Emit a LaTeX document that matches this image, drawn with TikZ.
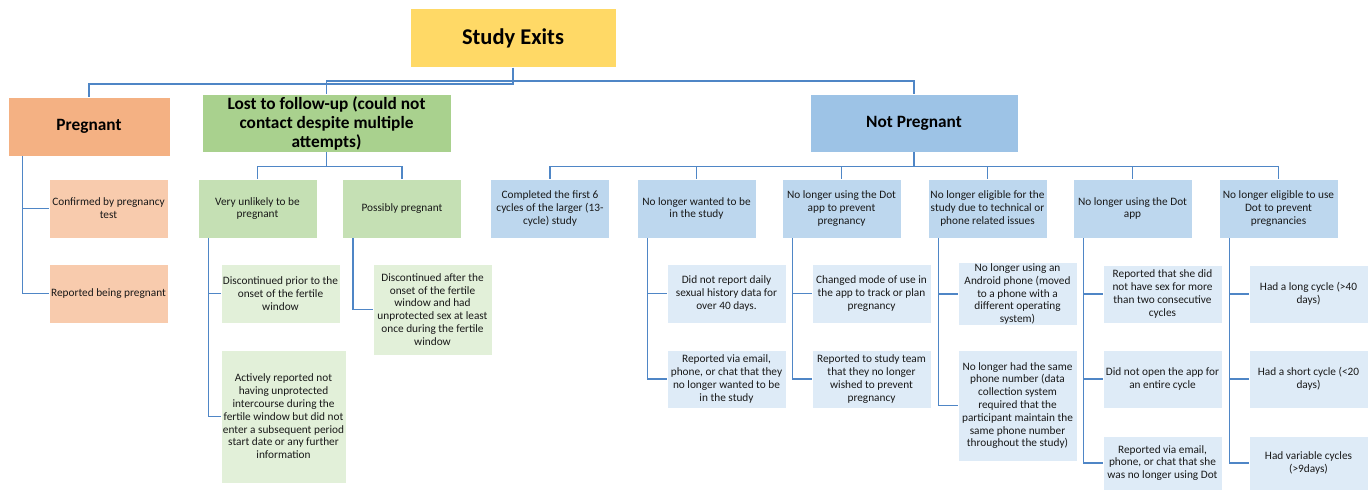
\documentclass[tikz,border=0pt]{standalone}
\usepackage{fontspec}
\setmainfont{Carlito}
\definecolor{linkblue}{HTML}{4F86C6}
\definecolor{exitfill}{HTML}{FFD966}
\definecolor{pregfill}{HTML}{F4B183}
\definecolor{pregsub}{HTML}{F8CBAD}
\definecolor{lostfill}{HTML}{A9D18E}
\definecolor{lostsub}{HTML}{C5E0B4}
\definecolor{lostleaf}{HTML}{E2F0D9}
\definecolor{npfill}{HTML}{9DC3E6}
\definecolor{npsub}{HTML}{BDD7EE}
\definecolor{npleaf}{HTML}{DEEBF7}
\tikzstyle{every node}=[font=\fontsize{11.3}{12.8}\selectfont]
\tikzstyle{box}=[rectangle,align=center,inner xsep=0pt,inner ysep=1pt,text=black!90,
  draw=white,line width=0.8pt,minimum width=119,minimum height=59]
\tikzstyle{head}=[box,font=\fontsize{17.3}{19}\selectfont\bfseries,text=black]
\tikzstyle{link}=[draw=linkblue,line width=1.4pt]

\begin{document}
\begin{tikzpicture}[x=1pt,y=-1pt]
        \useasboundingbox (0,0) rectangle (1370,490);
        % top
        \node[head,fill=exitfill,minimum width=206,minimum height=59,
          font=\fontsize{22.5}{24}\selectfont\bfseries] (exits) at (513,38) {Study Exits};
        \node[head,fill=pregfill,minimum width=162] (preg) at (89,126.5) {Pregnant};
        \node[head,fill=lostfill,minimum width=249,minimum height=58] (lost) at (326.5,123)
          {Lost to follow-up (could not\\contact despite multiple\\attempts)};
        \node[head,fill=npfill,minimum width=208,minimum height=58] (np) at (914,123) {Not Pregnant};
        \draw[link] (exits.south) -- ++(0,16) -| (preg.north);
        \draw[link] (exits.south) -- ++(0,13) -| (lost.north);
        \draw[link] (exits.south) -- ++(0,13) -| (np.north);
        % pregnant
        \node[box,fill=pregsub] (conf) at (108.5,208.5) {Confirmed by pregnancy\\test};
        \node[box,fill=pregsub] (repp) at (108.5,293.5) {Reported being pregnant};
        \draw[link] ([xshift=15pt]preg.south west) |- (conf.west);
        \draw[link] ([xshift=15pt]preg.south west) |- (repp.west);
        % lost to follow-up
        \node[box,fill=lostsub] (vu) at (257.5,208.5) {Very unlikely to be\\pregnant};
        \node[box,fill=lostsub] (pp) at (402,208.5) {Possibly pregnant};
        \draw[link] (lost.south) -- ++(0,14) -| (vu.north);
        \draw[link] (lost.south) -- ++(0,14) -| (pp.north);
        \node[box,fill=lostleaf] (dpr) at (280.5,293.5)
          {Discontinued prior to the\\onset of the fertile\\window};
        \node[box,fill=lostleaf,minimum width=125,minimum height=133] (act) at (283.5,416.5)
          {Actively reported not\\having unprotected\\intercourse during the\\fertile window but did not\\enter a subsequent period\\start date or any further\\information};
        \node[box,fill=lostleaf,minimum height=91] (dar) at (432.5,309.5)
          {Discontinued after the\\onset of the fertile\\window and had\\unprotected sex at least\\once during the fertile\\window};
        \draw[link] ([xshift=11pt]vu.south west) |- (dpr.west);
        \draw[link] ([xshift=11pt]vu.south west) |- (act.west);
        \draw[link] ([xshift=11pt]pp.south west) |- (dar.west);
        % not pregnant
        \node[box,fill=npsub] (done) at (550,208.5) {Completed the first 6\\cycles of the larger (13-\\cycle) study};
        \node[box,fill=npsub] (want) at (696.5,208.5) {No longer wanted to be\\in the study};
        \node[box,fill=npsub] (prev) at (841.5,208.5) {No longer using the Dot\\app to prevent\\pregnancy};
        \node[box,fill=npsub] (tech) at (987.5,208.5) {No longer eligible for the\\study due to technical or\\phone related issues};
        \node[box,fill=npsub] (dot) at (1132.5,208.5) {No longer using the Dot\\app};
        \node[box,fill=npsub] (elig) at (1278.5,208.5) {No longer eligible to use\\Dot to prevent\\pregnancies};
        \foreach \c in {done,want,prev,tech,dot,elig}
          \draw[link] (np.south) -- ++(0,14) -| (\c.north);
        % leaves
        \node[box,fill=npleaf] (dnr) at (726.5,293.5) {Did not report daily\\sexual history data for\\over 40 days.};
        \node[box,fill=npleaf,minimum height=58] (rve) at (726.5,379)
          {Reported via email,\\phone, or chat that they\\no longer wanted to be\\in the study};
        \node[box,fill=npleaf] (cmu) at (871.5,293.5) {Changed mode of use in\\the app to track or plan\\pregnancy};
        \node[box,fill=npleaf,minimum height=58] (rst) at (871.5,379)
          {Reported to study team\\that they no longer\\wished to prevent\\pregnancy};
        \node[box,fill=npleaf,minimum height=58] (andr) at (1017.5,294)
          {No longer using an\\Android phone (moved\\to a phone with a\\different operating\\system)};
        \node[box,fill=npleaf,minimum height=111] (num) at (1017.5,405.5)
          {No longer had the same\\phone number (data\\collection system\\required that the\\participant maintain the\\same phone number\\throughout the study)};
        \node[box,fill=npleaf,minimum height=58] (nsex) at (1162.5,294)
          {Reported that she did\\not have sex for more\\than two consecutive\\cycles};
        \node[box,fill=npleaf,minimum height=58] (nopen) at (1162.5,379) {Did not open the app for\\an entire cycle};
        \node[box,fill=npleaf,minimum height=54] (rves) at (1162.5,463)
          {Reported via email,\\phone, or chat that she\\was no longer using Dot};
        \node[box,fill=npleaf,minimum height=58] (lng) at (1308.5,294) {Had a long cycle (>40\\days)};
        \node[box,fill=npleaf,minimum height=58] (sht) at (1308.5,379) {Had a short cycle (<20\\days)};
        \node[box,fill=npleaf,minimum height=54] (var) at (1308.5,463) {Had variable cycles\\(>9days)};
        \draw[link] ([xshift=11pt]want.south west) |- (dnr.west);
        \draw[link] ([xshift=11pt]want.south west) |- (rve.west);
        \draw[link] ([xshift=11pt]prev.south west) |- (cmu.west);
        \draw[link] ([xshift=11pt]prev.south west) |- (rst.west);
        \draw[link] ([xshift=11pt]tech.south west) |- (andr.west);
        \draw[link] ([xshift=11pt]tech.south west) |- (num.west);
        \draw[link] ([xshift=11pt]dot.south west) |- (nsex.west);
        \draw[link] ([xshift=11pt]dot.south west) |- (nopen.west);
        \draw[link] ([xshift=11pt]dot.south west) |- (rves.west);
        \draw[link] ([xshift=11pt]elig.south west) |- (lng.west);
        \draw[link] ([xshift=11pt]elig.south west) |- (sht.west);
        \draw[link] ([xshift=11pt]elig.south west) |- (var.west);
      \end{tikzpicture}
\end{document}
